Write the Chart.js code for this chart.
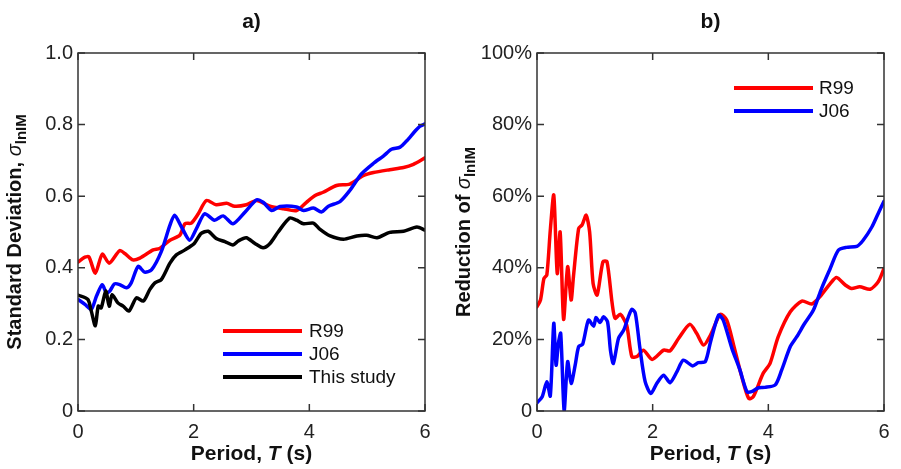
<!DOCTYPE html>
<html><head><meta charset="utf-8">
<script src="https://cdn.jsdelivr.net/npm/chart.js@4.4.1/dist/chart.umd.min.js"></script>
<style>html,body{margin:0;padding:0;background:#fff;overflow:hidden}
#a{position:absolute;left:0;top:0}#b{position:absolute;left:450px;top:0}</style>
</head><body>
<canvas id="a" width="450" height="469"></canvas>
<canvas id="b" width="451" height="469"></canvas>
<script>
// ---- data ----
const xTicks = [0, 2, 4, 6];
const yTicksA = [0, 0.2, 0.4, 0.6, 0.8, 1.0];
const yTicksB = [0, 20, 40, 60, 80, 100];
const seriesNamesA = ['R99', 'J06', 'This study'];
const seriesNamesB = ['R99', 'J06'];

const tR99A = [0,0.12,0.19,0.30,0.42,0.54,0.72,0.81,0.95,1.07,1.30,1.41,1.59,1.76,1.85,1.96,2.08,2.22,2.39,2.57,2.71,2.91,3.09,3.32,3.55,3.78,3.95,4.10,4.24,4.47,4.70,4.93,5.11,5.39,5.63,5.80,6.0];
const sR99A = [0.416,0.43,0.43,0.385,0.438,0.413,0.448,0.44,0.422,0.427,0.45,0.454,0.477,0.491,0.523,0.525,0.551,0.588,0.576,0.58,0.572,0.576,0.588,0.572,0.565,0.56,0.583,0.602,0.611,0.63,0.634,0.657,0.666,0.674,0.68,0.689,0.707];

const tJ06A = [0,0.12,0.23,0.32,0.42,0.49,0.55,0.63,0.72,0.84,0.92,1.04,1.15,1.27,1.44,1.59,1.67,1.79,1.93,2.05,2.19,2.36,2.51,2.68,2.89,3.09,3.20,3.35,3.49,3.78,3.90,4.07,4.21,4.33,4.53,4.70,4.90,5.11,5.28,5.42,5.57,5.68,5.83,5.91,6.0];
const sJ06A = [0.312,0.298,0.284,0.321,0.353,0.33,0.335,0.355,0.353,0.344,0.358,0.404,0.388,0.394,0.445,0.519,0.547,0.514,0.477,0.51,0.551,0.533,0.545,0.523,0.556,0.59,0.583,0.56,0.571,0.57,0.56,0.567,0.556,0.572,0.585,0.616,0.662,0.692,0.712,0.731,0.737,0.754,0.782,0.795,0.802];

const tStudyA = [0,0.17,0.23,0.30,0.35,0.40,0.48,0.54,0.59,0.69,0.78,0.88,1.01,1.13,1.24,1.33,1.44,1.59,1.70,1.85,2.01,2.13,2.25,2.39,2.54,2.68,2.77,2.91,3.06,3.20,3.32,3.46,3.66,3.78,3.90,4.07,4.18,4.36,4.59,4.82,4.99,5.17,5.39,5.63,5.86,6.0];
const sStudyA = [0.324,0.312,0.279,0.238,0.293,0.288,0.335,0.293,0.325,0.302,0.293,0.279,0.316,0.307,0.339,0.358,0.367,0.413,0.436,0.45,0.468,0.496,0.502,0.482,0.473,0.464,0.475,0.484,0.468,0.456,0.468,0.5,0.539,0.533,0.523,0.525,0.508,0.489,0.48,0.489,0.491,0.484,0.499,0.502,0.514,0.505];

const tR99B = [0,0.06,0.12,0.17,0.23,0.29,0.35,0.40,0.46,0.53,0.59,0.63,0.72,0.78,0.85,0.91,0.97,1.04,1.14,1.21,1.30,1.35,1.44,1.55,1.64,1.73,1.84,1.99,2.19,2.30,2.45,2.64,2.76,2.88,3.0,3.17,3.28,3.40,3.54,3.66,3.74,3.91,4.03,4.17,4.38,4.58,4.75,4.89,5.07,5.18,5.33,5.44,5.58,5.76,5.90,6.0];
const rR99B = [29.1,31,37,38,50.5,60.3,38.4,50,25.6,40.3,31,37.5,51,52,54.7,50,35.6,32.4,41.7,41.7,30,25.9,27,24,15.2,15.2,17,14.4,17,16.8,20.3,24.2,21.7,18.4,21.2,27,25.4,18.4,9.6,3.5,4,10.5,13.3,20.7,27.7,30.7,29.9,31.9,35.6,37.3,35.2,34.2,34.7,34,36.1,39.8];

const tJ06B = [0,0.09,0.17,0.23,0.29,0.33,0.37,0.41,0.47,0.53,0.59,0.66,0.72,0.79,0.89,0.98,1.02,1.09,1.15,1.22,1.27,1.32,1.41,1.50,1.58,1.64,1.70,1.78,1.87,1.97,2.07,2.19,2.30,2.42,2.53,2.69,2.79,2.91,3.0,3.14,3.22,3.37,3.51,3.63,3.71,3.83,3.94,4.12,4.23,4.38,4.49,4.63,4.78,4.92,5.07,5.21,5.35,5.53,5.64,5.79,5.90,6.0];
const rJ06B = [2.3,4,8.2,4.2,24.5,12.8,18.9,21.7,0,13.8,7.7,12.8,18,18.7,25.4,23.7,26.1,24.7,26.3,24.9,17,13.3,20.3,22.6,26.3,28.4,27.3,17.5,8.2,4.9,7.7,10,7.9,11,14.2,12.6,13.5,13.8,19.3,26.8,25.4,17.5,11.4,5.4,5.4,6.5,6.6,7.3,11.4,18,20.7,24.5,28.2,34.2,39.8,44.9,45.7,46,47.7,51.4,55.2,58.6];

// ---- helpers ----
const FONT = '"Liberation Sans", Arial, Helvetica, sans-serif';
const pts = (t, v) => t.map((x, i) => ({x: x, y: v[i]}));
const COLORS = {R99: '#ff0000', J06: '#0000ff', 'This study': '#000000'};

function richText(ctx, segs, x, y, rot) {
  ctx.save();
  ctx.translate(x, y);
  ctx.rotate(rot);
  let w = 0;
  segs.forEach(s => { ctx.font = s.font; w += ctx.measureText(s.text).width; });
  let cx = -w / 2;
  ctx.textBaseline = 'alphabetic';
  ctx.textAlign = 'left';
  ctx.fillStyle = '#111';
  segs.forEach(s => { ctx.font = s.font; ctx.fillText(s.text, cx, s.dy || 0); cx += ctx.measureText(s.text).width; });
  ctx.restore();
}

const framePlugin = {
  id: 'frame',
  afterDraw(chart, args, o) {
    const {ctx, chartArea: a, scales: {x, y}} = chart;
    ctx.save();
    ctx.strokeStyle = '#333';
    ctx.lineWidth = 1.5;
    ctx.strokeRect(a.left, a.top, a.right - a.left, a.bottom - a.top);
    ctx.beginPath();
    const L = 7;
    o.xt.forEach(v => { const px = x.getPixelForValue(v); ctx.moveTo(px, a.bottom); ctx.lineTo(px, a.bottom - L); ctx.moveTo(px, a.top); ctx.lineTo(px, a.top + L); });
    o.yt.forEach(v => { const py = y.getPixelForValue(v); ctx.moveTo(a.left, py); ctx.lineTo(a.left + L, py); ctx.moveTo(a.right, py); ctx.lineTo(a.right - L, py); });
    ctx.stroke();
    // legend
    o.legend.names.forEach((n, i) => {
      const ly = o.legend.y + i * o.legend.dy;
      ctx.strokeStyle = COLORS[n];
      ctx.lineWidth = 4;
      ctx.beginPath();
      ctx.moveTo(o.legend.x1, ly); ctx.lineTo(o.legend.x2, ly);
      ctx.stroke();
      ctx.fillStyle = '#111';
      ctx.font = '19px ' + FONT;
      ctx.textBaseline = 'middle';
      ctx.textAlign = 'left';
      ctx.fillText(n, o.legend.tx, ly + 1);
    });
    ctx.restore();
    // panel title
    const cxm = (a.left + a.right) / 2;
    richText(ctx, [{text: o.title, font: 'bold 21px ' + FONT}], cxm, 28, 0);
    // x title
    richText(ctx, [
      {text: 'Period, ', font: 'bold 21px ' + FONT},
      {text: 'T', font: 'italic bold 21px ' + FONT},
      {text: ' (s)', font: 'bold 21px ' + FONT}
    ], cxm, 460, 0);
    // y title
    richText(ctx, o.ytitle, o.ytx, (a.top + a.bottom) / 2, -Math.PI / 2);
  }
};

function makeChart(id, datasets, opts) {
  return new Chart(document.getElementById(id), {
    type: 'line',
    data: {datasets: datasets},
    plugins: [framePlugin],
    options: {
      responsive: false,
      animation: false,
      devicePixelRatio: 1,
      layout: {padding: {left: 0, top: 53, right: opts.padRight, bottom: 0}},
      elements: {point: {radius: 0}, line: {borderWidth: 3.5, tension: 0.25, borderCapStyle: 'round', borderJoinStyle: 'round'}},
      plugins: {
        legend: {display: false}, tooltip: {enabled: false},
        frame: opts.frame
      },
      scales: {
        x: {
          type: 'linear', min: 0, max: 6,
          afterBuildTicks: s => { s.ticks = xTicks.map(v => ({value: v})); },
          afterFit: s => { s.height = 58; },
          grid: {display: false, drawTicks: false},
          border: {display: false},
          ticks: {padding: 9, color: '#222', font: {family: FONT, size: 20}, maxRotation: 0, callback: v => String(v)}
        },
        y: {
          type: 'linear', min: 0, max: opts.ymax,
          afterBuildTicks: s => { s.ticks = opts.yt.map(v => ({value: v})); },
          afterFit: s => { s.width = opts.yw; },
          grid: {display: false, drawTicks: false},
          border: {display: false},
          ticks: {padding: 5, color: '#222', font: {family: FONT, size: 20}, callback: opts.yfmt}
        }
      }
    }
  });
}

makeChart('a', [
  {label: seriesNamesA[2], data: pts(tStudyA, sStudyA), borderColor: COLORS['This study'], order: 0},
  {label: seriesNamesA[1], data: pts(tJ06A, sJ06A), borderColor: COLORS.J06, order: 1},
  {label: seriesNamesA[0], data: pts(tR99A, sR99A), borderColor: COLORS.R99, order: 2}
], {
  padRight: 25, yw: 78, ymax: 1.0, yt: yTicksA,
  yfmt: v => v === 0 ? '0' : v.toFixed(1),
  frame: {
    xt: xTicks, yt: yTicksA, title: 'a)', ytx: 21,
    ytitle: [
      {text: 'Standard Deviation, ', font: 'bold 20px ' + FONT},
      {text: 'σ', font: 'italic 20px ' + FONT},
      {text: 'lnIM', font: 'bold 15px ' + FONT, dy: 5}
    ],
    legend: {names: seriesNamesA, x1: 223, x2: 302, tx: 309, y: 331, dy: 23}
  }
});

makeChart('b', [
  {label: seriesNamesB[1], data: pts(tJ06B, rJ06B), borderColor: COLORS.J06, order: 0},
  {label: seriesNamesB[0], data: pts(tR99B, rR99B), borderColor: COLORS.R99, order: 1}
], {
  padRight: 17, yw: 87, ymax: 100, yt: yTicksB,
  yfmt: v => v === 0 ? '0' : v + '%',
  frame: {
    xt: xTicks, yt: yTicksB, title: 'b)', ytx: 20,
    ytitle: [
      {text: 'Reduction of ', font: 'bold 20px ' + FONT},
      {text: 'σ', font: 'italic 20px ' + FONT},
      {text: 'lnIM', font: 'bold 15px ' + FONT, dy: 5}
    ],
    legend: {names: seriesNamesB, x1: 284, x2: 363, tx: 369, y: 88, dy: 23}
  }
});
</script>
</body></html>
